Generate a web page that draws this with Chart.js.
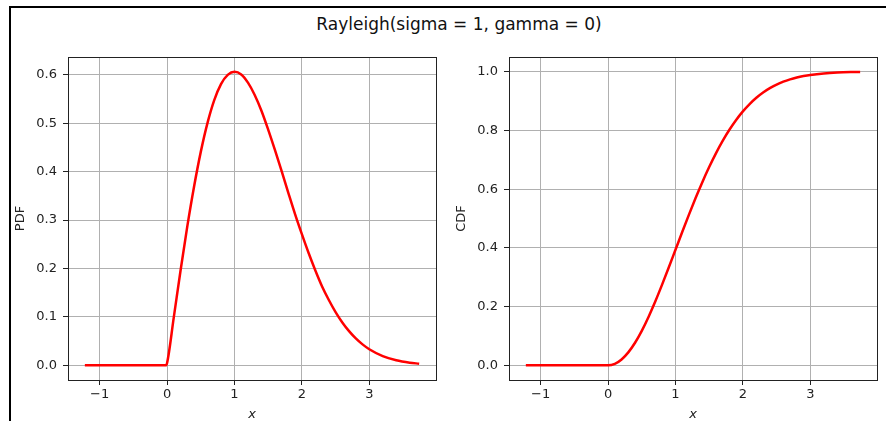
<!DOCTYPE html>
<html>
<head>
<meta charset="utf-8">
<script src="https://cdn.jsdelivr.net/npm/chart.js@4.4.1/dist/chart.umd.min.js"></script>
<style>
  body { margin: 0; background: #fff; width: 886px; height: 421px; overflow: hidden; position: relative; font-family: "DejaVu Sans", sans-serif; }
  #moldura { position: absolute; left: 9px; top: 6px; width: 877px; height: 415px; border-left: 2px solid #000; border-top: 2px solid #000; box-sizing: border-box; }
  #titulo { position: absolute; left: 0; width: 918px; top: 14px; text-align: center; font-size: 17px; line-height: 20px; color: #111; }
  .quadro { position: absolute; top: 30px; width: 445px; height: 391px; }
</style>
</head>
<body>
<div id="moldura"></div>
<div id="titulo">Rayleigh(sigma = 1, gamma = 0)</div>
<div class="quadro" style="left:0px"><canvas id="grafico-pdf"></canvas></div>
<div class="quadro" style="left:441px"><canvas id="grafico-cdf"></canvas></div>
<script>
// Valores
const valoresX = [-1.22, -0.6, -0.02, 0, 0.1, 0.2, 0.3, 0.4, 0.5, 0.6, 0.7, 0.8, 0.9, 1.0, 1.1, 1.2, 1.3, 1.4, 1.5,
  1.6, 1.7, 1.8, 1.9, 2.0, 2.1, 2.2, 2.3, 2.4, 2.5, 2.6, 2.7, 2.8, 2.9, 3.0, 3.2, 3.4, 3.6, 3.74];
const valoresPdf = [0, 0, 0, 0.005, 0.0995, 0.196, 0.287, 0.369, 0.441, 0.501, 0.548, 0.581, 0.600, 0.6065, 0.601, 0.584,
  0.5585, 0.526, 0.487, 0.445, 0.401, 0.356, 0.312, 0.271, 0.232, 0.196, 0.163, 0.135, 0.110, 0.0886, 0.0706,
  0.0556, 0.0433, 0.0333, 0.0191, 0.0105, 0.0055, 0.0034];
const valoresCdf = [0, 0, 0, 0, 0.005, 0.0198, 0.044, 0.0769, 0.1175, 0.1647, 0.2173, 0.2739, 0.333, 0.3935, 0.4539,
  0.5132, 0.5704, 0.6247, 0.6753, 0.722, 0.7642, 0.8021, 0.8355, 0.8647, 0.8897, 0.9111, 0.929, 0.9439, 0.9561,
  0.966, 0.9739, 0.9802, 0.9851, 0.9889, 0.994, 0.9969, 0.9985, 0.9991];
const ticksX = [-1, 0, 1, 2, 3];

const corTexto = '#222';
const corGrade = '#b0b0b0';
const fonteTick = { family: 'DejaVu Sans', size: 13 };

// Plugin que desenha a moldura do eixo (os quatro lados)
const molduraEixo = {
  id: 'molduraEixo',
  afterDraw(chart) {
    const { ctx, chartArea: a } = chart;
    ctx.save();
    ctx.strokeStyle = corTexto;
    ctx.lineWidth = 1;
    ctx.strokeRect(Math.round(a.left) + 0.5, Math.round(a.top) + 0.5, Math.round(a.right - a.left), Math.round(a.bottom - a.top));
    ctx.restore();
  }
};

function montarGrafico(id, dados, rotuloY, minY, maxY, passoY) {
  const pontos = valoresX.map((x, i) => ({ x: x, y: dados[i] }));
  return new Chart(document.getElementById(id), {
    type: 'line',
    data: {
      datasets: [{
        data: pontos,
        borderColor: '#ff0000',
        borderWidth: 2.5,
        pointRadius: 0,
        cubicInterpolationMode: 'monotone',
        fill: false
      }]
    },
    options: {
      responsive: true,
      maintainAspectRatio: false,
      animation: false,
      layout: { padding: { top: 27, right: 9, left: 0, bottom: 0 } },
      plugins: { legend: { display: false }, tooltip: { enabled: false } },
      scales: {
        x: {
          type: 'linear',
          min: -1.47,
          max: 3.99,
          afterFit(scale) { scale.height = 41; },
          afterBuildTicks(scale) { scale.ticks = ticksX.map(v => ({ value: v })); },
          grid: { color: corGrade, lineWidth: 1, tickColor: corTexto, tickLength: 5, drawTicks: true },
          border: { display: false },
          ticks: {
            color: corTexto, font: fonteTick, padding: 2, maxRotation: 0,
            callback: v => (v < 0 ? '\u2212' + Math.abs(v) : String(v))
          },
          title: { display: true, text: 'x', color: corTexto, font: { family: 'DejaVu Sans', size: 13, style: 'italic', lineHeight: 1 }, padding: 0 }
        },
        y: {
          type: 'linear',
          min: minY,
          max: maxY,
          afterFit(scale) { scale.width = 68; },
          afterBuildTicks(scale) {
            const lista = [];
            for (let v = 0; v <= maxY + 1e-9; v += passoY) lista.push({ value: Math.round(v * 10) / 10 });
            scale.ticks = lista;
          },
          grid: { color: corGrade, lineWidth: 1, tickColor: corTexto, tickLength: 5, drawTicks: true },
          border: { display: false },
          ticks: { color: corTexto, font: fonteTick, padding: 6, callback: v => v.toFixed(1) },
          title: { display: true, text: rotuloY, color: corTexto, font: { family: 'DejaVu Sans', size: 13, lineHeight: 1 }, padding: { top: 14, bottom: 0 } }
        }
      }
    },
    plugins: [molduraEixo]
  });
}

montarGrafico('grafico-pdf', valoresPdf, 'PDF', -0.0303, 0.637, 0.1);
montarGrafico('grafico-cdf', valoresCdf, 'CDF', -0.05, 1.05, 0.2);
</script>
</body>
</html>
